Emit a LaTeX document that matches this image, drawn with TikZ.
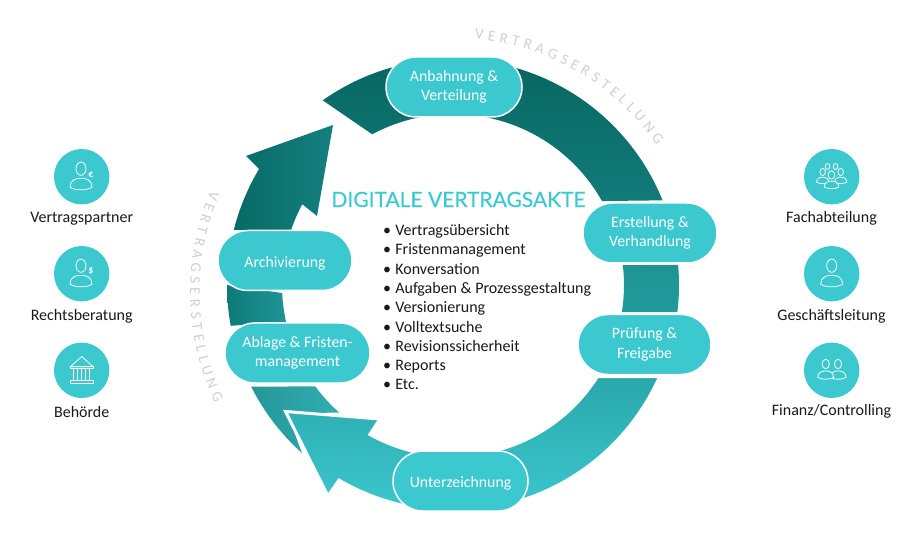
\documentclass[tikz,border=0pt]{standalone}
\usepackage{fontspec}
\setmainfont{Carlito}
\newfontfamily\titlefont[FakeBold=0.25]{Lato}
\usetikzlibrary{calc,decorations.text}
\definecolor{teal1}{HTML}{3CC8CF}
\definecolor{arcgray}{HTML}{CFCFCF}
\definecolor{HTMLA}{HTML}{07645E}
\definecolor{HTMLB}{HTML}{117B79}
\definecolor{HTMLC}{HTML}{1E9494}
\definecolor{HTMLD}{HTML}{219A9B}
\definecolor{HTMLE}{HTML}{0D7A78}
\definecolor{HTMLF}{HTML}{1F9595}
\definecolor{HTMLG}{HTML}{259798}
\definecolor{HTMLH}{HTML}{32ADB1}
\definecolor{HTMLI}{HTML}{086A66}
\definecolor{HTMLJ}{HTML}{14807F}
\definecolor{HTMLK}{HTML}{2AA8AB}
\newcommand\bandpath[4]{($(c)+(#1:226pt)$) arc[start angle=#1,end angle=#2,radius=226pt] -- ($(c)+(#3:171pt)$) arc[start angle=#3,end angle=#4,radius=171pt] -- cycle}
\newcommand\person[3]{\begin{scope}[shift={(#1,#2)},scale=#3]
 \draw[iconline] (0,8) ellipse[x radius=5,y radius=6.6];
 \draw[iconline] (-11,-10.5) .. controls (-11,-4) and (-6,-1.5) .. (0,-1.5) .. controls (6,-1.5) and (11,-4) .. (11,-10.5) .. controls (6,-14) and (-6,-14) .. (-11,-10.5) -- cycle;
\end{scope}}
\tikzset{
 pill/.style={draw=white,line width=1.5pt,fill=teal1,text=white,minimum width=#1,minimum height=60pt,rounded corners=30pt,inner sep=0pt,align=center,font=\fontsize{15.8}{19.3}\selectfont,execute at begin node={\rule{0pt}{16pt}}},
 iconcircle/.style={circle,fill=teal1,minimum size=55.4pt,inner sep=0pt},
 iconline/.style={draw=white,fill=teal1,line width=0.8pt},
 lab/.style={text=black!90,font=\fontsize{16}{19.3}\selectfont,inner sep=0pt},
 arclabel/.style={decorate,decoration={text along path,text align={fit to path},text color=arcgray,text={|\fontsize{15}{16}\selectfont|VERTRAGSERSTELLUNG}}}
}
\begin{document}
\begin{tikzpicture}[x=1pt,y=1pt]
\useasboundingbox (0,0) rectangle (918,536);
\coordinate (c) at (453,251);
\coordinate (c2) at (450,244);
% ring pieces
\shade[top color=HTMLA,bottom color=HTMLB] \bandpath{125.2}{22}{29.4}{118.2};
\shade[top color=HTMLC,bottom color=HTMLD] \bandpath{5.1}{-6.9}{-9.1}{6.7};
\shade[left color=HTMLE,right color=HTMLF] \bandpath{180}{190.4}{192.5}{182.7};
\shade[left color=HTMLG,right color=HTMLH] ($(c)+(206.7:226pt)$) arc[start angle=206.7,end angle=228.1,radius=226pt] -- (287,123) -- ($(c)+(228.3:171pt)$) arc[start angle=228.3,end angle=216.4,radius=171pt] -- cycle;
\shade[left color=HTMLI,right color=HTMLJ] ($(c)+(165.9:226pt)$) arc[start angle=165.9,end angle=149.1,radius=226pt] -- (246,380) -- (333,411) -- (317,320) -- ($(c)+(151.8:171pt)$) arc[start angle=151.8,end angle=161.2,radius=171pt] -- cycle;
\draw[white,line width=3pt,top color=HTMLK,bottom color=teal1] ($(c)+(-23.9:226pt)$) arc[start angle=-23.9,end angle=-120.3,radius=226pt] -- (328,40) -- (285.5,124.5) -- (380,117) -- ($(c)+(-119.1:171pt)$) arc[start angle=-119.1,end angle=-32.4,radius=171pt] -- cycle;
% arc texts
\path[arclabel] ($(c)+(85:247pt)$) arc[start angle=85,end angle=34.5,radius=247pt];
\path[arclabel] ($(c2)+(157:260pt)$) arc[start angle=157,end angle=205.2,radius=260pt];
% stages
\node[pill=136pt] (n1) at (454,449) {Anbahnung \&\\Verteilung};
\node[pill=134pt] (n2) at (650,303) {Erstellung \&\\Verhandlung};
\node[pill=133pt] (n3) at (644.5,191.5) {Prüfung \&\\Freigabe};
\node[pill=135pt] (n4) at (460.5,55) {Unterzeichnung};
\node[pill=145pt] (n5) at (297.5,183) {Ablage \& Fristen-\\management};
\node[pill=134pt] (n6) at (285,275.5) {Archivierung};
% centre
\node[text=teal1,font=\titlefont\fontsize{21}{24}\selectfont,inner sep=0pt] (title) at (458.5,336.5) {DIGITALE VERTRAGSAKTE};
\node[lab,anchor=west,align=left] (list) at (383,228.7) {•\hspace{4.2pt}Vertragsübersicht\\•\hspace{4.2pt}Fristenmanagement\\•\hspace{4.2pt}Konversation\\•\hspace{4.2pt}Aufgaben \& Prozessgestaltung\\•\hspace{4.2pt}Versionierung\\•\hspace{4.2pt}Volltextsuche\\•\hspace{4.2pt}Revisionssicherheit\\•\hspace{4.2pt}Reports\\•\hspace{4.2pt}Etc.};
% left icons
\node[iconcircle] (l1) at (81.7,359.3) {};
\node[iconcircle] (l2) at (81.7,262.3) {};
\node[iconcircle] (l3) at (81.7,165.7) {};
\node[lab] (t1) at (81.7,317) {Vertragspartner};
\node[lab] (t2) at (81.7,220) {Rechtsberatung};
\node[lab] (t3) at (81.7,124.5) {Behörde};
\person{81}{359.3}{1}
\person{81}{262.3}{1}
\node[text=white,inner sep=0pt,font=\fontsize{10}{10}\selectfont\bfseries] (eur) at (91,361.5) {€};
\node[text=white,inner sep=0pt,font=\fontsize{10}{10}\selectfont\bfseries] (usd) at (91,265) {\$};
\begin{scope}[shift={(l3)},line width=0.8pt,white]
 \draw[line join=round] (-11.5,3.5) -- (0,13.8) -- (11.5,3.5) -- cycle;
 \draw (-11.5,3.5) rectangle (11.5,1.5);
 \foreach \xx in {-8,-4,0,4,8} {\draw (\xx,1.5) -- (\xx,-10);}
 \draw (-11.5,-10) rectangle (11.5,-13);
\end{scope}
% right icons
\node[iconcircle] (r1) at (831.7,359.3) {};
\node[iconcircle] (r2) at (831.7,262.3) {};
\node[iconcircle] (r3) at (831.7,165.7) {};
\node[lab] (t4) at (831.5,318) {Fachabteilung};
\node[lab] (t5) at (831.5,220) {Geschäftsleitung};
\node[lab] (t6) at (831.5,124.5) {Finanz/Controlling};
\draw[iconline] (827.5,369.5) ellipse[x radius=2.3,y radius=3];
\draw[iconline] (835.5,369.5) ellipse[x radius=2.3,y radius=3];
\person{822.7}{359.6}{0.55}
\person{840.7}{359.6}{0.55}
\person{831.5}{355.8}{0.65}
\person{838}{166.2}{0.72}
\person{825.7}{166.2}{0.72}
\person{831.7}{262.3}{1}
\end{tikzpicture}
\end{document}
